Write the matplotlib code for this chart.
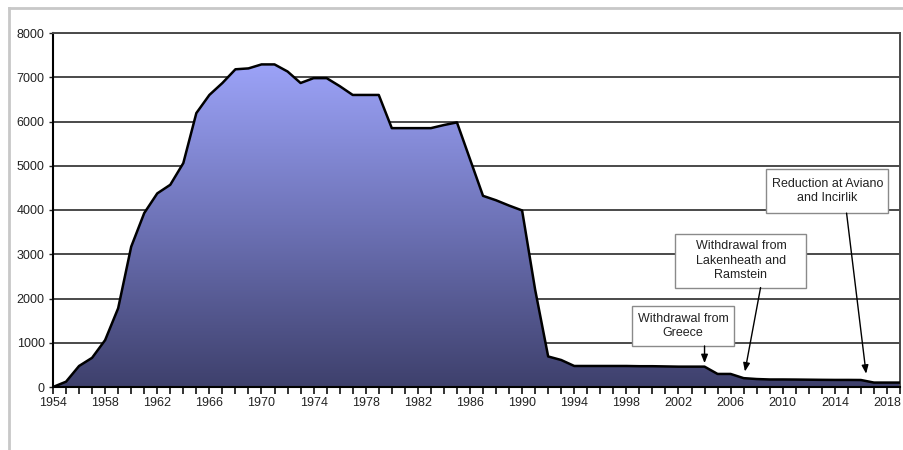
import numpy as np
import matplotlib.pyplot as plt
from matplotlib.colors import LinearSegmentedColormap
from matplotlib.lines import Line2D
from matplotlib.patches import Rectangle

plt.rcParams['font.family'] = ['Liberation Sans', 'DejaVu Sans']

# --- Data ---
years = np.arange(1954, 2020)
weapons = [
    0, 120, 475, 660, 1060, 1780, 3170, 3930, 4375, 4570,      # 1954-1963
    5060, 6190, 6600, 6870, 7180, 7200, 7290, 7290, 7130, 6870,  # 1964-1973
    6980, 6980, 6800, 6600, 6600, 6600, 5850, 5850, 5850, 5850,  # 1974-1983
    5920, 5980, 5150, 4320, 4220, 4100, 3990, 2200, 690, 610,    # 1984-1993
    475, 475, 475, 475, 475, 470, 470, 465, 460, 460,            # 1994-2003
    460, 295, 295, 200, 180, 170, 170, 168, 165, 162,            # 2004-2013
    160, 160, 158, 100, 100, 100,                                # 2014-2019
]
tick_years = np.arange(1954, 2019, 4)
y_ticks = np.arange(0, 8001, 1000)

notes = [
    "Withdrawal from\nGreece",
    "Withdrawal from\nLakenheath and\nRamstein",
    "Reduction at Aviano\nand Incirlik",
]
# box extents in data units: (x0, x1, y0, y1)
note_boxes = [(1998.47, 2006.24, 928, 1833),
              (2001.77, 2011.82, 2247, 3462),
              (2008.75, 2018.11, 3930, 4925)]
note_arrow_from = [(2004.0, 928), (2008.3, 2247), (2014.9, 3930)]
note_arrow_to = [(2004.0, 540), (2007.1, 350), (2016.4, 300)]

# --- Figure ---
fig = plt.figure(figsize=(9.04, 4.5), dpi=100, facecolor='white')
ax = fig.add_axes([53 / 904, 1 - 387 / 450, 847 / 904, 354 / 450])

# outer frame (top and left only visible)
fig.add_artist(Line2D([9 / 904, 1], [1 - 8 / 450, 1 - 8 / 450], transform=fig.transFigure,
                      color='#c8c8c8', lw=2))
fig.add_artist(Line2D([9 / 904, 9 / 904], [0, 1 - 8 / 450], transform=fig.transFigure,
                      color='#c8c8c8', lw=2))

# gradient fill under the curve
cmap = LinearSegmentedColormap.from_list('fill', ['#3e406c', '#6d72b6', '#9ca3f8'])
grad = np.linspace(0, 1, 256).reshape(-1, 1)
poly = ax.fill_between(years, weapons, 0, color='none', lw=0)
img = ax.imshow(grad, extent=[1954, 2019, 0, 7300], origin='lower', aspect='auto',
                cmap=cmap, zorder=2)
img.set_clip_path(poly.get_paths()[0], transform=ax.transData)
ax.plot(years, weapons, color='black', lw=1.8, zorder=3, solid_joinstyle='round')

ax.set_xlim(1954, 2019)
ax.set_ylim(0, 8000)
ax.set_xticks(tick_years)
ax.set_xticks(years, minor=True)
ax.set_yticks(y_ticks)
ax.tick_params(axis='x', which='both', direction='out', length=5, width=1.3,
               labelsize=9, colors='#222222', pad=2)
ax.tick_params(axis='y', direction='out', length=3, width=1, labelsize=9,
               colors='#222222', pad=3)
ax.yaxis.grid(True, color='#4a4a4a', lw=1.4, zorder=1)
ax.set_axisbelow(True)
for side in ['left', 'bottom']:
    ax.spines[side].set_color('black')
    ax.spines[side].set_linewidth(1.5)
for side in ['top', 'right']:
    ax.spines[side].set_color('#4a4a4a')
    ax.spines[side].set_linewidth(1.4)

# annotations: fixed-size boxes, text centred, arrow from box bottom
for txt, box, afrom, ato in zip(notes, note_boxes, note_arrow_from, note_arrow_to):
    x0, x1, y0, y1 = box
    ax.add_patch(Rectangle((x0, y0), x1 - x0, y1 - y0, fc='white', ec='#8a8a8a',
                           lw=1, zorder=5))
    ax.text((x0 + x1) / 2, (y0 + y1) / 2, txt, ha='center', va='center', fontsize=9,
            color='#222222', linespacing=1.3, zorder=6)
    ax.annotate('', xy=ato, xytext=afrom, zorder=6,
                arrowprops=dict(arrowstyle='-|>,head_length=0.5,head_width=0.2',
                                color='black', lw=1, shrinkA=0, shrinkB=0))

fig.savefig('out.png', dpi=100, facecolor='white')
